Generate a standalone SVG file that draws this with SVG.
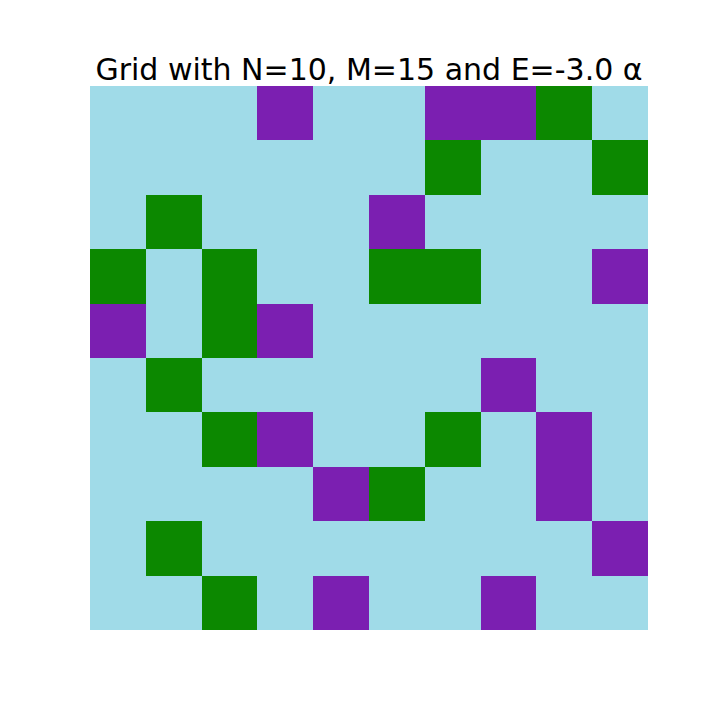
<svg xmlns="http://www.w3.org/2000/svg" width="720" height="720" viewBox="0 0 720 720">
<style>
.p{fill:#7b1fb1}
.g{fill:#0c8800}
rect{shape-rendering:crispEdges}
.t{font-family:"DejaVu Sans",sans-serif;font-size:30px;fill:#000}
</style>
<rect width="720" height="720" fill="#fff"/>
<g id="grid">
<rect x="90" y="86" width="558" height="544" fill="#a0dbe8"/>
<!-- row 0 -->
<rect class="p" x="257.4" y="86" width="55.8" height="54.4"/>
<rect class="p" x="424.8" y="86" width="111.6" height="54.4"/>
<rect class="g" x="536.4" y="86" width="55.8" height="54.4"/>
<!-- row 1 -->
<rect class="g" x="424.8" y="140.4" width="55.8" height="54.4"/>
<rect class="g" x="592.2" y="140.4" width="55.8" height="54.4"/>
<!-- row 2 -->
<rect class="g" x="145.8" y="194.8" width="55.8" height="54.4"/>
<rect class="p" x="369" y="194.8" width="55.8" height="54.4"/>
<!-- row 3 -->
<rect class="g" x="90" y="249.2" width="55.8" height="54.4"/>
<rect class="g" x="201.6" y="249.2" width="55.8" height="108.8"/>
<rect class="g" x="369" y="249.2" width="111.6" height="54.4"/>
<rect class="p" x="592.2" y="249.2" width="55.8" height="54.4"/>
<!-- row 4 -->
<rect class="p" x="90" y="303.6" width="55.8" height="54.4"/>
<rect class="p" x="257.4" y="303.6" width="55.8" height="54.4"/>
<!-- row 5 -->
<rect class="g" x="145.8" y="358" width="55.8" height="54.4"/>
<rect class="p" x="480.6" y="358" width="55.8" height="54.4"/>
<!-- row 6 -->
<rect class="g" x="201.6" y="412.4" width="55.8" height="54.4"/>
<rect class="p" x="257.4" y="412.4" width="55.8" height="54.4"/>
<rect class="g" x="424.8" y="412.4" width="55.8" height="54.4"/>
<rect class="p" x="536.4" y="412.4" width="55.8" height="108.8"/>
<!-- row 7 -->
<rect class="p" x="313.2" y="466.8" width="55.8" height="54.4"/>
<rect class="g" x="369" y="466.8" width="55.8" height="54.4"/>
<!-- row 8 -->
<rect class="g" x="145.8" y="521.2" width="55.8" height="54.4"/>
<rect class="p" x="592.2" y="521.2" width="55.8" height="54.4"/>
<!-- row 9 -->
<rect class="g" x="201.6" y="575.6" width="55.8" height="54.4"/>
<rect class="p" x="313.2" y="575.6" width="55.8" height="54.4"/>
<rect class="p" x="480.6" y="575.6" width="55.8" height="54.4"/>
</g>
<text class="t" x="369" y="80" text-anchor="middle">Grid with N=10, M=15 and E=-3.0 α</text>
</svg>
